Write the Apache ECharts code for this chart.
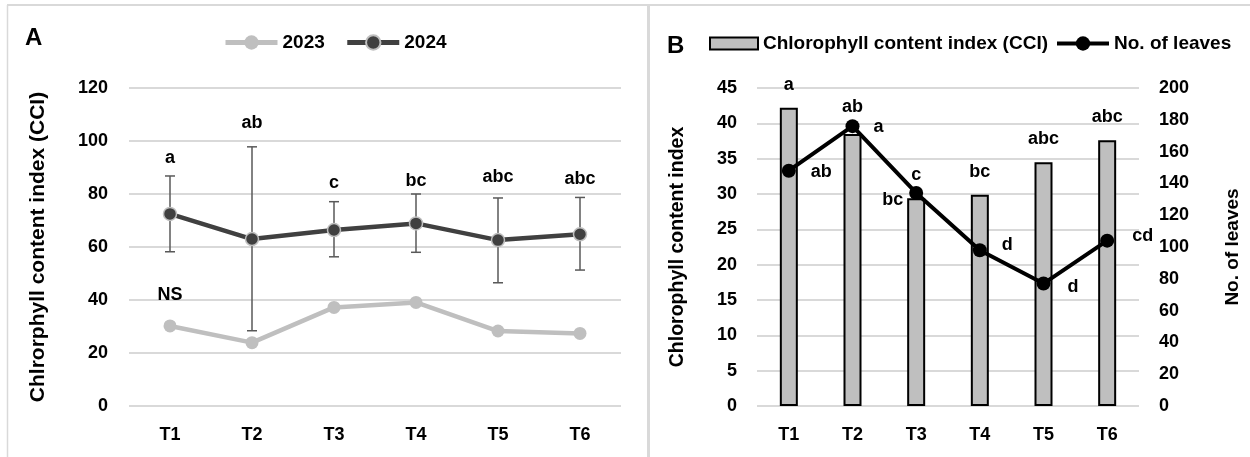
<!DOCTYPE html>
<html>
<head>
<meta charset="utf-8">
<script src="https://cdn.jsdelivr.net/npm/echarts@6/dist/echarts.min.js"></script>
<style>
    html, body { margin: 0; padding: 0; background: #fff; }
    #chart { width: 1250px; height: 457px; }
</style>
</head>
<body>
<div id="chart"></div>
<script>
// data
var categories = ["T1", "T2", "T3", "T4", "T5", "T6"];

// panel A
var cci2023 = [30.2, 23.9, 37.2, 39.1, 28.3, 27.4];
var cci2024 = [72.5, 63.0, 66.4, 68.9, 62.6, 64.8];
var cci2024Low = [58.2, 28.4, 56.3, 58.0, 46.5, 51.3];
var cci2024High = [86.8, 97.8, 77.1, 80.0, 78.5, 78.7];
var letters2024 = ["a", "ab", "c", "bc", "abc", "abc"];
var letters2023 = ["NS", "", "", "", "", ""];

// panel B
var cciB = [42.2, 38.5, 29.4, 29.9, 34.5, 37.6];
var cciBLetters = ["a", "ab", "bc", "bc", "abc", "abc"];
var leaves = [148, 176, 134, 98, 77, 104];
var leavesLetters = ["ab", "a", "c", "d", "d", "cd"];

var FONT = "Liberation Sans, Arial, sans-serif";
var GRID_COLOR = "#d9d9d9";

// placement of the letter labels (style only)
var letterGapA = [18, 24, 19, 13, 21, 18];
var lineLabelB = [
    {position: "right", distance: 15, offset: [0, 1]},
    {position: "right", distance: 14, offset: [0, 1]},
    {position: "top", distance: 2, offset: [0, 0]},
    {position: "right", distance: 15, offset: [0, -5]},
    {position: "right", distance: 17, offset: [0, 3]},
    {position: "right", distance: 18, offset: [0, -5]}
];

function boldText(size) {
    return {color: "#000", fontFamily: FONT, fontWeight: "bold", fontSize: size};
}

function renderErrorBar(params, api) {
    var i = params.dataIndex;
    var top = api.coord([api.value(0), api.value(2)]);
    var bot = api.coord([api.value(0), api.value(1)]);
    var cap = 5;
    var st = {stroke: "#595959", lineWidth: 1.5};
    return {
        type: "group",
        children: [
            {type: "line", shape: {x1: top[0], y1: top[1], x2: bot[0], y2: bot[1]}, style: st},
            {type: "line", shape: {x1: top[0] - cap, y1: top[1], x2: top[0] + cap, y2: top[1]}, style: st},
            {type: "line", shape: {x1: bot[0] - cap, y1: bot[1], x2: bot[0] + cap, y2: bot[1]}, style: st},
            {
                type: "text",
                x: top[0],
                y: top[1] - letterGapA[i],
                style: {
                    text: letters2024[i], fill: "#000", font: "bold 18px " + FONT,
                    align: "center", verticalAlign: "middle"
                }
            }
        ]
    };
}

function buildErrorData() {
    var out = [];
    for (var i = 0; i < categories.length; i++) {
        out.push([i, cci2024Low[i], cci2024High[i]]);
    }
    return out;
}

function buildBarData() {
    var out = [];
    for (var i = 0; i < cciB.length; i++) {
        var item = {value: cciB[i], label: {show: true, formatter: cciBLetters[i], position: "top", distance: i === 1 ? 18 : 14}};
        if (i === 2) {
            item.label = {show: true, formatter: cciBLetters[i], position: [-4, 2], align: "right", verticalAlign: "middle"};
        }
        out.push(item);
    }
    return out;
}

function buildLeavesData() {
    var out = [];
    for (var i = 0; i < leaves.length; i++) {
        var p = lineLabelB[i];
        out.push({
            value: leaves[i],
            label: {show: true, formatter: leavesLetters[i], position: p.position, distance: p.distance, offset: p.offset}
        });
    }
    return out;
}

function build2023Data() {
    var out = [];
    for (var i = 0; i < cci2023.length; i++) {
        var item = {value: cci2023[i]};
        if (letters2023[i]) {
            item.label = {show: true, formatter: letters2023[i], position: "top", distance: 15};
        }
        out.push(item);
    }
    return out;
}

function catAxis(gridIndex) {
    return {
        type: "category",
        gridIndex: gridIndex,
        data: categories,
        boundaryGap: true,
        axisLine: {show: false},
        axisTick: {show: false},
        axisLabel: Object.assign(boldText(18), {margin: 20})
    };
}

function init() {
    var chart = echarts.init(document.getElementById("chart"));
    var option = {
        animation: false,
        backgroundColor: "#fff",
        textStyle: {fontFamily: FONT},
        graphic: [
            {type: "line", shape: {x1: 7, y1: 5, x2: 1250, y2: 5}, style: {stroke: GRID_COLOR, lineWidth: 2}},
            {type: "line", shape: {x1: 7.5, y1: 5, x2: 7.5, y2: 457}, style: {stroke: GRID_COLOR, lineWidth: 1.5}},
            {type: "line", shape: {x1: 648.5, y1: 5, x2: 648.5, y2: 457}, style: {stroke: GRID_COLOR, lineWidth: 3}},
            {type: "text", left: 25, top: 26, style: {text: "A", fill: "#000", font: "bold 24px " + FONT}},
            {type: "text", left: 667, top: 34, style: {text: "B", fill: "#000", font: "bold 24px " + FONT}}
        ],
        legend: [
            {
                left: 218, top: 28,
                data: ["2023", "2024"],
                itemWidth: 52, itemHeight: 18, itemGap: 20,
                lineStyle: {width: 5},
                textStyle: boldText(19)
            },
            {
                left: 704, top: 29,
                data: [{name: "Chlorophyll content index (CCI)", icon: "rect"}],
                itemWidth: 48, itemHeight: 12,
                textStyle: boldText(19)
            },
            {
                left: 1050, top: 29,
                data: ["No. of leaves"],
                itemWidth: 52, itemHeight: 18,
                lineStyle: {width: 4},
                textStyle: boldText(19)
            }
        ],
        grid: [
            {left: 129, right: 629, top: 88, bottom: 51},
            {left: 757, right: 111, top: 88, bottom: 51}
        ],
        xAxis: [catAxis(0), catAxis(1)],
        yAxis: [
            {
                type: "value", gridIndex: 0, min: 0, max: 120, interval: 20,
                name: "Chlrorphyll content index (CCI)", nameLocation: "middle", nameGap: 80, nameRotate: 90,
                nameTextStyle: boldText(21),
                axisLabel: Object.assign(boldText(18), {margin: 21}),
                splitLine: {lineStyle: {color: GRID_COLOR, width: 2}}
            },
            {
                type: "value", gridIndex: 1, min: 0, max: 45, interval: 5,
                name: "Chlorophyll content index", nameLocation: "middle", nameGap: 69, nameRotate: 90,
                nameTextStyle: boldText(19.5),
                axisLabel: Object.assign(boldText(18), {margin: 20}),
                splitLine: {lineStyle: {color: GRID_COLOR, width: 2}}
            },
            {
                type: "value", gridIndex: 1, position: "right", min: 0, max: 200, interval: 20,
                name: "No. of leaves", nameLocation: "middle", nameGap: 84, nameRotate: 90,
                nameTextStyle: boldText(19),
                axisLabel: Object.assign(boldText(18), {margin: 20}),
                axisLine: {show: false},
                axisTick: {show: false},
                splitLine: {show: false}
            }
        ],
        series: [
            {
                name: "errors2024",
                type: "custom",
                xAxisIndex: 0, yAxisIndex: 0,
                renderItem: renderErrorBar,
                encode: {x: 0, y: [1, 2]},
                data: buildErrorData(),
                z: 1
            },
            {
                name: "2023",
                type: "line",
                xAxisIndex: 0, yAxisIndex: 0,
                data: build2023Data(),
                symbol: "circle", symbolSize: 13,
                lineStyle: {color: "#bfbfbf", width: 4.5},
                itemStyle: {color: "#bfbfbf"},
                label: boldText(18),
                z: 3
            },
            {
                name: "2024",
                type: "line",
                xAxisIndex: 0, yAxisIndex: 0,
                data: cci2024,
                symbol: "circle", symbolSize: 13,
                lineStyle: {color: "#404040", width: 4.5},
                itemStyle: {color: "#404040", borderColor: "#bfbfbf", borderWidth: 1.5},
                z: 4
            },
            {
                name: "Chlorophyll content index (CCI)",
                type: "bar",
                xAxisIndex: 1, yAxisIndex: 1,
                data: buildBarData(),
                barWidth: 18,
                itemStyle: {color: "#bfbfbf", borderColor: "#000", borderWidth: 2},
                label: boldText(18),
                z: 2
            },
            {
                name: "No. of leaves",
                type: "line",
                xAxisIndex: 1, yAxisIndex: 2,
                data: buildLeavesData(),
                symbol: "circle", symbolSize: 14,
                lineStyle: {color: "#000", width: 4},
                itemStyle: {color: "#000"},
                label: boldText(18),
                z: 4
            }
        ]
    };
    chart.setOption(option);
}

init();
</script>
</body>
</html>
